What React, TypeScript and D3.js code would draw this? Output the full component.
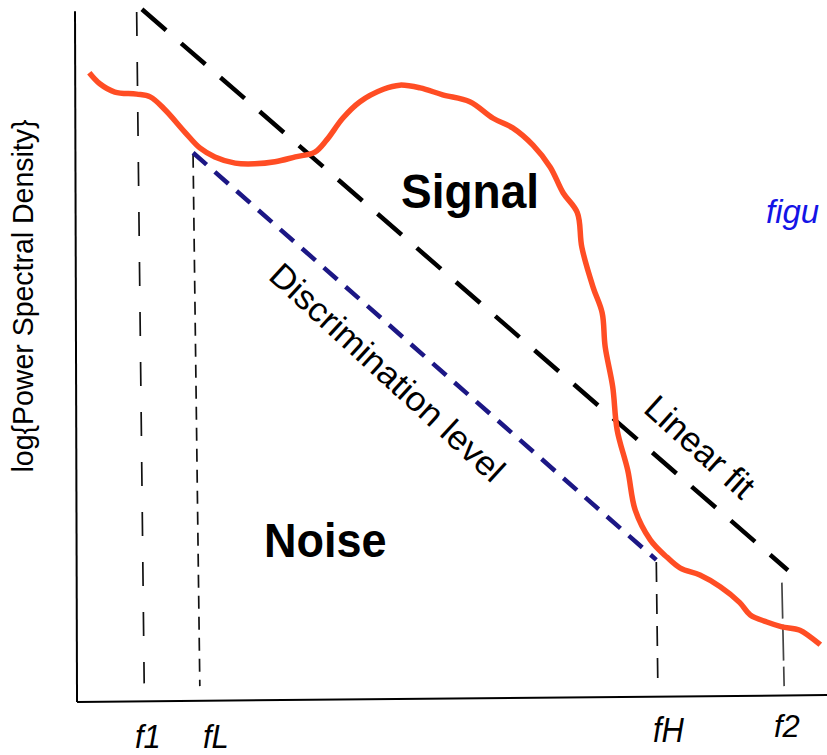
import React from "react";
import * as d3 from "d3";

// ---- data (abstract units: x = log frequency 0..100, y = log PSD 0..100) ----
const signalX = [1.9, 3.3, 5.3, 8.2, 10.0, 12.0, 14.6, 16.6, 18.6, 21.3, 23.9, 26.6, 29.3, 31.9, 33.5, 35.6, 37.9, 41.0, 43.2, 45.9, 48.9, 52.5, 55.6, 58.2, 60.9, 63.2, 64.9, 66.8, 67.4, 68.9, 70.1, 70.5, 71.5, 72.1, 73.5, 74.5, 76.5, 78.7, 80.5, 83.1, 85.8, 88.4, 89.8, 92.0, 94.0, 96.4, 99.1];
const signalY = [91.2, 89.6, 88.4, 88.1, 87.7, 85.8, 82.6, 80.3, 79.0, 78.1, 78.0, 78.3, 79.0, 79.7, 81.5, 84.6, 87.0, 88.8, 89.4, 89.0, 88.0, 87.0, 84.6, 83.2, 80.7, 77.5, 73.8, 70.9, 65.9, 60.1, 56.4, 51.5, 45.7, 39.4, 33.6, 27.8, 23.5, 21.0, 19.4, 18.4, 16.7, 14.4, 12.6, 11.6, 10.9, 10.4, 8.3];

const fitX = [8.9, 94.8];
const fitY = [100.4, 19.1];

const discX = [15.7, 77.3];
const discY = [79.6, 20.6];

const tickLabels = ["f1", "fL", "fH", "f2"];
const guideTopX = [8.2, 15.7, 77.3, 94.0];
const guideBotX = [9.2, 16.6, 77.5, 94.3];
const guideTopY = [100, 79.3, 20.3, 17.3];
const guideBotY = [2.7, 2.3, 2.9, 2.3];

const yAxisLabel = "log{Power Spectral Density}";
const signalLabel = "Signal";
const noiseLabel = "Noise";
const fitLabel = "Linear fit";
const discLabel = "Discrimination level";
const cutLabel = "figu";

// ---- layout / style ----
const W = 827;
const H = 755;
const FONT = "'Liberation Sans', Arial, Helvetica, sans-serif";
const guideDash = ["24,26", "13,8", "20,12", "36,6"];
const guideColor = ["#111", "#111", "#111", "#444"];
const labelPos = [
  { x: 135, y: 748, s: 1.08 },
  { x: 203, y: 748, s: 1.08 },
  { x: 653, y: 742, s: 1.15 },
  { x: 774, y: 737, s: 1.0 },
];

export default function App() {
  const xs = d3.scaleLinear().domain([0, 100]).range([75, 827]);
  const ys = d3.scaleLinear().domain([0, 100]).range([702, 12]);

  const smooth = d3
    .line<[number, number]>()
    .x((d) => xs(d[0]))
    .y((d) => ys(d[1]))
    .curve(d3.curveCatmullRom.alpha(0.5));
  const straight = d3
    .line<[number, number]>()
    .x((d) => xs(d[0]))
    .y((d) => ys(d[1]));

  const signalPts: [number, number][] = signalX.map((x, i) => [x, signalY[i]]);
  const fitPts: [number, number][] = fitX.map((x, i) => [x, fitY[i]]);
  const discPts: [number, number][] = discX.map((x, i) => [x, discY[i]]);

  const yAxisPath = straight([
    [0, 100.1],
    [0.27, 0],
  ]) as string;
  const xAxisPath = straight([
    [0.27, 0],
    [100, 1],
  ]) as string;

  return (
    <svg
      width={W}
      height={H}
      viewBox={`0 0 ${W} ${H}`}
      style={{ position: "fixed", left: 0, top: 0, background: "#fff" }}
      fontFamily={FONT}
    >
      <rect x={0} y={0} width={W} height={H} fill="#fff" />
      {/* axes */}
      <path d={yAxisPath} stroke="#000" strokeWidth={2} fill="none" />
      <path d={xAxisPath} stroke="#000" strokeWidth={2} fill="none" />

      {/* vertical guides */}
      {tickLabels.map((t, i) => (
        <path
          key={"g" + t}
          d={
            straight([
              [guideTopX[i], guideTopY[i]],
              [guideBotX[i], guideBotY[i]],
            ]) as string
          }
          stroke={guideColor[i]}
          strokeWidth={1.7}
          strokeDasharray={guideDash[i]}
          fill="none"
        />
      ))}

      {/* discrimination level */}
      <path
        d={straight(discPts) as string}
        stroke="#1c1785"
        strokeWidth={4.5}
        strokeDasharray="18,11"
        fill="none"
      />
      {/* linear fit */}
      <path
        d={straight(fitPts) as string}
        stroke="#000"
        strokeWidth={4.5}
        strokeDasharray="32,20"
        fill="none"
      />
      {/* signal curve */}
      <path
        d={smooth(signalPts) as string}
        stroke="#ff4d24"
        strokeWidth={5.5}
        strokeLinecap="butt"
        strokeLinejoin="round"
        fill="none"
      />

      {/* tick labels */}
      {tickLabels.map((t, i) => (
        <text
          key={"t" + t}
          transform={`translate(${labelPos[i].x},${labelPos[i].y}) scale(1,${labelPos[i].s})`}
          fontSize={31}
          fontStyle="italic"
          fill="#000"
        >
          {t}
        </text>
      ))}

      {/* y axis label */}
      <text
        transform="translate(33,296) rotate(-90)"
        textAnchor="middle"
        fontSize={29}
        textLength={353}
        lengthAdjust="spacingAndGlyphs"
        fill="#000"
      >
        {yAxisLabel}
      </text>

      {/* region labels */}
      <text
        transform="translate(401,208) scale(1,1.06)"
        fontSize={46}
        fontWeight="bold"
        fill="#000"
      >
        {signalLabel}
      </text>
      <text
        transform="translate(264,557) scale(1,1.06)"
        fontSize={45}
        fontWeight="bold"
        fill="#000"
      >
        {noiseLabel}
      </text>

      {/* line labels */}
      <text
        transform="translate(267,278) rotate(42.5)"
        fontSize={34}
        textLength={305}
        lengthAdjust="spacingAndGlyphs"
        fill="#000"
      >
        {discLabel}
      </text>
      <text transform="translate(642,411) rotate(42)" fontSize={35} fill="#000">
        {fitLabel}
      </text>

      <text x={766} y={223} fontSize={33} fontStyle="italic" fill="#1414e6">
        {cutLabel}
      </text>
    </svg>
  );
}
